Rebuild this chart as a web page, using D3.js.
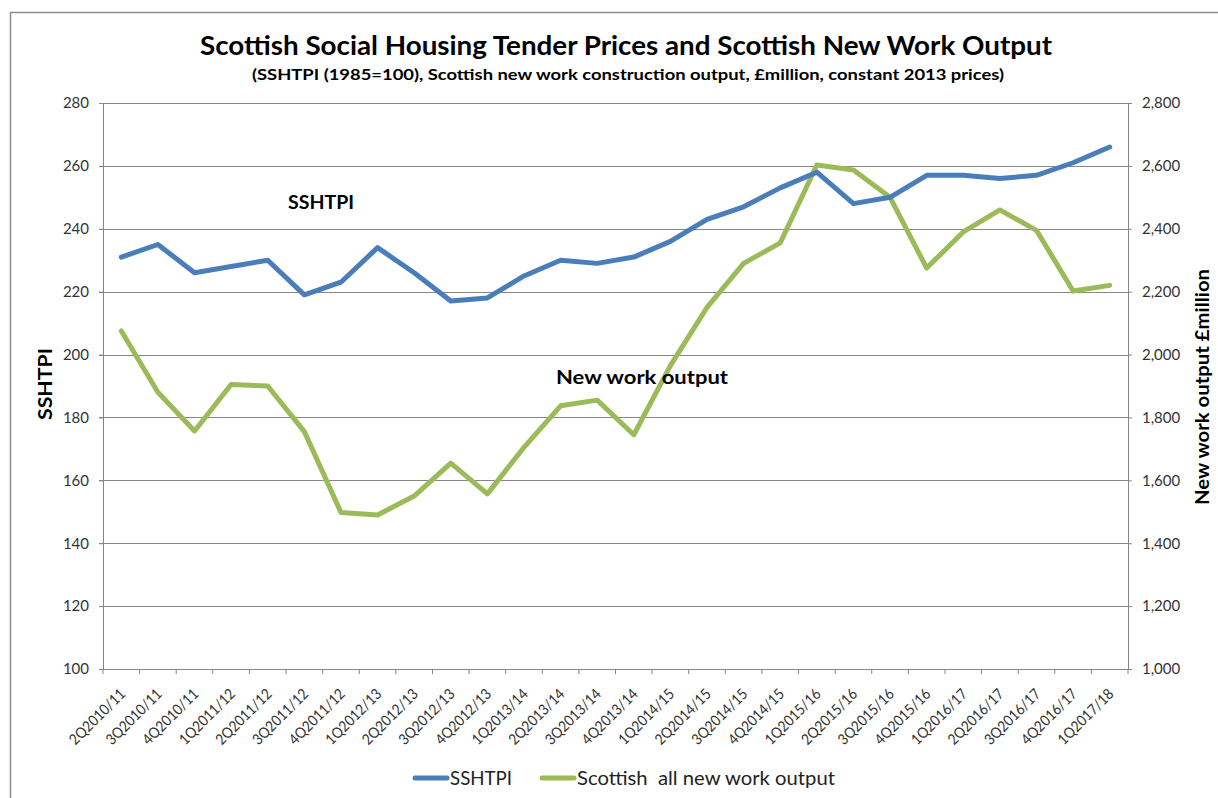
<!DOCTYPE html>
<html>
<head>
<meta charset="utf-8">
<script src="https://cdn.jsdelivr.net/npm/d3@7"></script>
<style>
  body { margin: 0; background: #fff; }
  text { font-family: Lato, "Open Sans", sans-serif; }
</style>
</head>
<body>
<script>
(function (d3) {
  "use strict";

  /***** Data *****/
  var quarters = ["2Q2010/11", "3Q2010/11", "4Q2010/11", "1Q2011/12", "2Q2011/12", "3Q2011/12",
    "4Q2011/12", "1Q2012/13", "2Q2012/13", "3Q2012/13", "4Q2012/13", "1Q2013/14", "2Q2013/14",
    "3Q2013/14", "4Q2013/14", "1Q2014/15", "2Q2014/15", "3Q2014/15", "4Q2014/15", "1Q2015/16",
    "2Q2015/16", "3Q2015/16", "4Q2015/16", "1Q2016/17", "2Q2016/17", "3Q2016/17", "4Q2016/17",
    "1Q2017/18"];
  var sshtpi = [231, 235, 226, 228, 230, 219, 223, 234, 226, 217, 218, 225, 230, 229, 231, 236,
    243, 247, 253, 258, 248, 250, 257, 257, 256, 257, 261, 266];
  var newWork = [2075, 1880, 1757, 1905, 1900, 1755, 1498, 1490, 1550, 1655, 1557, 1705, 1837,
    1855, 1745, 1965, 2150, 2290, 2355, 2603, 2587, 2500, 2275, 2390, 2460, 2395, 2202, 2220];
  var leftTicks = [100, 120, 140, 160, 180, 200, 220, 240, 260, 280];
  var rightTicks = [1000, 1200, 1400, 1600, 1800, 2000, 2200, 2400, 2600, 2800];

  /***** Configuration *****/
  var W = 1218, H = 798;
  var margin = { top: 103, left: 103, right: 90, bottom: 129 };
  var width = W - margin.left - margin.right;
  var height = H - margin.top - margin.bottom;
  var gridColor = "#868686";
  var blue = "#4a7ebb", green = "#9bbb59";

  /***** Scales *****/
  var x = d3.scaleBand().domain(quarters).range([0, width]);
  var yL = d3.scaleLinear().domain([100, 280]).range([height, 0]);
  var yR = d3.scaleLinear().domain([1000, 2800]).range([height, 0]);

  var svg = d3.select("body").append("svg")
    .attr("width", W).attr("height", H);

  // outer frame
  svg.append("rect")
    .attr("x", 10.5).attr("y", 12.5)
    .attr("width", W).attr("height", H)
    .attr("fill", "none").attr("stroke", "#8c8c8c").attr("stroke-width", 1.5);

  // titles
  svg.append("text")
    .attr("x", 626).attr("y", 55)
    .attr("text-anchor", "middle")
    .attr("font-size", 26).attr("font-weight", "bold")
    .attr("textLength", 852).attr("lengthAdjust", "spacingAndGlyphs")
    .text("Scottish Social Housing Tender Prices and Scottish New Work Output");
  svg.append("text")
    .attr("x", 628).attr("y", 80)
    .attr("text-anchor", "middle")
    .attr("font-size", 15).attr("font-weight", "bold")
    .attr("textLength", 752).attr("lengthAdjust", "spacingAndGlyphs")
    .text("(SSHTPI (1985=100), Scottish new work construction  output, \u00a3million,  constant 2013 prices)");

  var g = svg.append("g")
    .attr("transform", "translate(" + margin.left + "," + margin.top + ")");

  // gridlines
  g.append("g").selectAll("line").data(leftTicks.slice(1)).join("line")
    .attr("x1", -4).attr("x2", width)
    .attr("y1", d => Math.round(yL(d)) + 0.5).attr("y2", d => Math.round(yL(d)) + 0.5)
    .attr("stroke", gridColor).attr("stroke-width", 1);

  // left axis
  var leftAxis = g.append("g")
    .call(d3.axisLeft(yL).tickValues(leftTicks).tickSize(4).tickPadding(10));
  leftAxis.select(".domain").attr("stroke", gridColor);
  leftAxis.selectAll(".tick line").attr("stroke", gridColor);
  leftAxis.selectAll("text").attr("font-size", 15).attr("fill", "#333")
    .style("font-family", "Lato, 'Open Sans', sans-serif");

  // right axis
  var rightAxis = g.append("g")
    .attr("transform", "translate(" + width + ",0)")
    .call(d3.axisRight(yR).tickValues(rightTicks).tickSize(4).tickPadding(10).tickFormat(d3.format(",")));
  rightAxis.select(".domain").attr("stroke", gridColor);
  rightAxis.selectAll(".tick line").attr("stroke", gridColor);
  rightAxis.selectAll("text").attr("font-size", 15).attr("fill", "#333")
    .style("font-family", "Lato, 'Open Sans', sans-serif");

  // bottom axis
  g.append("line")
    .attr("x1", -4).attr("x2", width + 4)
    .attr("y1", height + 0.5).attr("y2", height + 0.5)
    .attr("stroke", gridColor);
  var edges = quarters.map(q => x(q)).concat([width]);
  g.append("g").selectAll("line").data(edges).join("line")
    .attr("x1", d => d).attr("x2", d => d)
    .attr("y1", height).attr("y2", height + 5)
    .attr("stroke", gridColor);
  g.append("g").selectAll("text").data(quarters).join("text")
    .attr("transform", d => "translate(" + (x(d) + x.bandwidth() / 2 - 3) + "," + (height + 18) + ") rotate(-45)")
    .attr("text-anchor", "end")
    .attr("dy", "0.75em")
    .attr("font-size", 15).attr("fill", "#333")
    .attr("textLength", 72).attr("lengthAdjust", "spacingAndGlyphs")
    .text(d => d);

  // axis titles
  svg.append("text")
    .attr("transform", "translate(52,384) rotate(-90)")
    .attr("text-anchor", "middle")
    .attr("font-size", 19).attr("font-weight", "bold")
    .attr("textLength", 72).attr("lengthAdjust", "spacingAndGlyphs")
    .text("SSHTPI");
  svg.append("text")
    .attr("transform", "translate(1209,387) rotate(-90)")
    .attr("text-anchor", "middle")
    .attr("font-size", 19).attr("font-weight", "bold")
    .attr("textLength", 236).attr("lengthAdjust", "spacingAndGlyphs")
    .text("New work output \u00a3million");

  // lines
  var cx = d => x(d) + x.bandwidth() / 2;
  g.append("path")
    .datum(quarters.map((q, i) => [cx(q), yR(newWork[i])]))
    .attr("d", d3.line())
    .attr("fill", "none").attr("stroke", green).attr("stroke-width", 5)
    .attr("stroke-linejoin", "round").attr("stroke-linecap", "round");
  g.append("path")
    .datum(quarters.map((q, i) => [cx(q), yL(sshtpi[i])]))
    .attr("d", d3.line())
    .attr("fill", "none").attr("stroke", blue).attr("stroke-width", 5)
    .attr("stroke-linejoin", "round").attr("stroke-linecap", "round");

  // in-chart labels
  svg.append("text")
    .attr("x", 288).attr("y", 209)
    .attr("font-size", 19).attr("font-weight", "bold")
    .attr("textLength", 66).attr("lengthAdjust", "spacingAndGlyphs")
    .text("SSHTPI");
  svg.append("text")
    .attr("x", 556).attr("y", 384)
    .attr("font-size", 19).attr("font-weight", "bold")
    .attr("textLength", 172).attr("lengthAdjust", "spacingAndGlyphs")
    .text("New work output");

  // legend
  var legend = [
    { name: "SSHTPI", color: blue, x: 413, len: 62 },
    { name: "Scottish  all new work output", color: green, x: 540, len: 258 }
  ];
  var lg = svg.append("g").selectAll("g").data(legend).join("g")
    .attr("transform", d => "translate(" + d.x + ",778)");
  lg.append("line")
    .attr("x1", 2).attr("x2", 34).attr("y1", 0).attr("y2", 0)
    .attr("stroke", d => d.color).attr("stroke-width", 5).attr("stroke-linecap", "round");
  lg.append("text")
    .attr("x", 37).attr("y", 7)
    .attr("font-size", 19).attr("fill", "#222")
    .attr("textLength", d => d.len).attr("lengthAdjust", "spacingAndGlyphs")
    .style("white-space", "pre")
    .text(d => d.name);
})(d3);
</script>
</body>
</html>
